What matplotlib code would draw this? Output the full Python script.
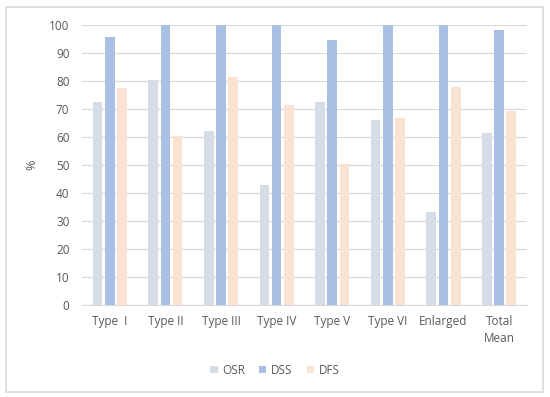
import numpy as np
import matplotlib.pyplot as plt
from matplotlib.patches import Rectangle

categories = ['Type  I', 'Type II', 'Type III', 'Type IV', 'Type V', 'Type VI', 'Enlarged', 'Total\nMean']
osr = [72.5, 80.2, 61.9, 42.9, 72.3, 66.0, 33.3, 61.4]
dss = [95.5, 100, 100, 100, 94.6, 100, 100, 98.0]
dfs = [77.3, 60.4, 81.3, 71.3, 50.1, 66.8, 77.7, 69.3]
series = ['OSR', 'DSS', 'DFS']
colors = ['#D6DCE5', '#A9BFE4', '#FBE3D4']

plt.rcParams['font.family'] = ['Open Sans', 'DejaVu Sans']
txt = '#595959'

fig = plt.figure(figsize=(5.5, 3.97), dpi=100)
ax = fig.add_axes([0.149, 0.232, 0.809, 0.706])

x = np.arange(len(categories))
w = 0.175
step = 0.22
for i, (vals, c, name) in enumerate(zip([osr, dss, dfs], colors, series)):
    ax.bar(x + (i - 1) * step, vals, width=w, color=c, label=name, zorder=3)

ax.set_xlim(-0.5, len(categories) - 0.5)
ax.set_ylim(0, 100)
ax.set_yticks(range(0, 101, 10))
ax.yaxis.grid(True, color='#D9D9D9', linewidth=0.9, zorder=0)
ax.set_xticks(x)
ax.set_xticklabels(categories, fontsize=8.5, color=txt, linespacing=1.4)
ax.tick_params(axis='y', labelsize=8.5, colors=txt, length=0, pad=9)
ax.tick_params(axis='x', length=0, pad=7)
for s in ['top', 'right', 'left']:
    ax.spines[s].set_visible(False)
ax.spines['bottom'].set_color('#D9D9D9')
ax.set_ylabel('%', fontsize=9, color=txt, labelpad=8)

leg = fig.legend(loc='center', bbox_to_anchor=(0.5, 0.068), ncol=3, frameon=False,
                 fontsize=8.5, handlelength=0.6, handleheight=0.6, columnspacing=1.2,
                 handletextpad=0.4)
for t in leg.get_texts():
    t.set_color(txt)

fig.patches.append(Rectangle((0.011, 0.013), 0.976, 0.97, transform=fig.transFigure,
                             fill=False, edgecolor='#D9D9D9', linewidth=1.2))

fig.savefig('out.png', dpi=100)
